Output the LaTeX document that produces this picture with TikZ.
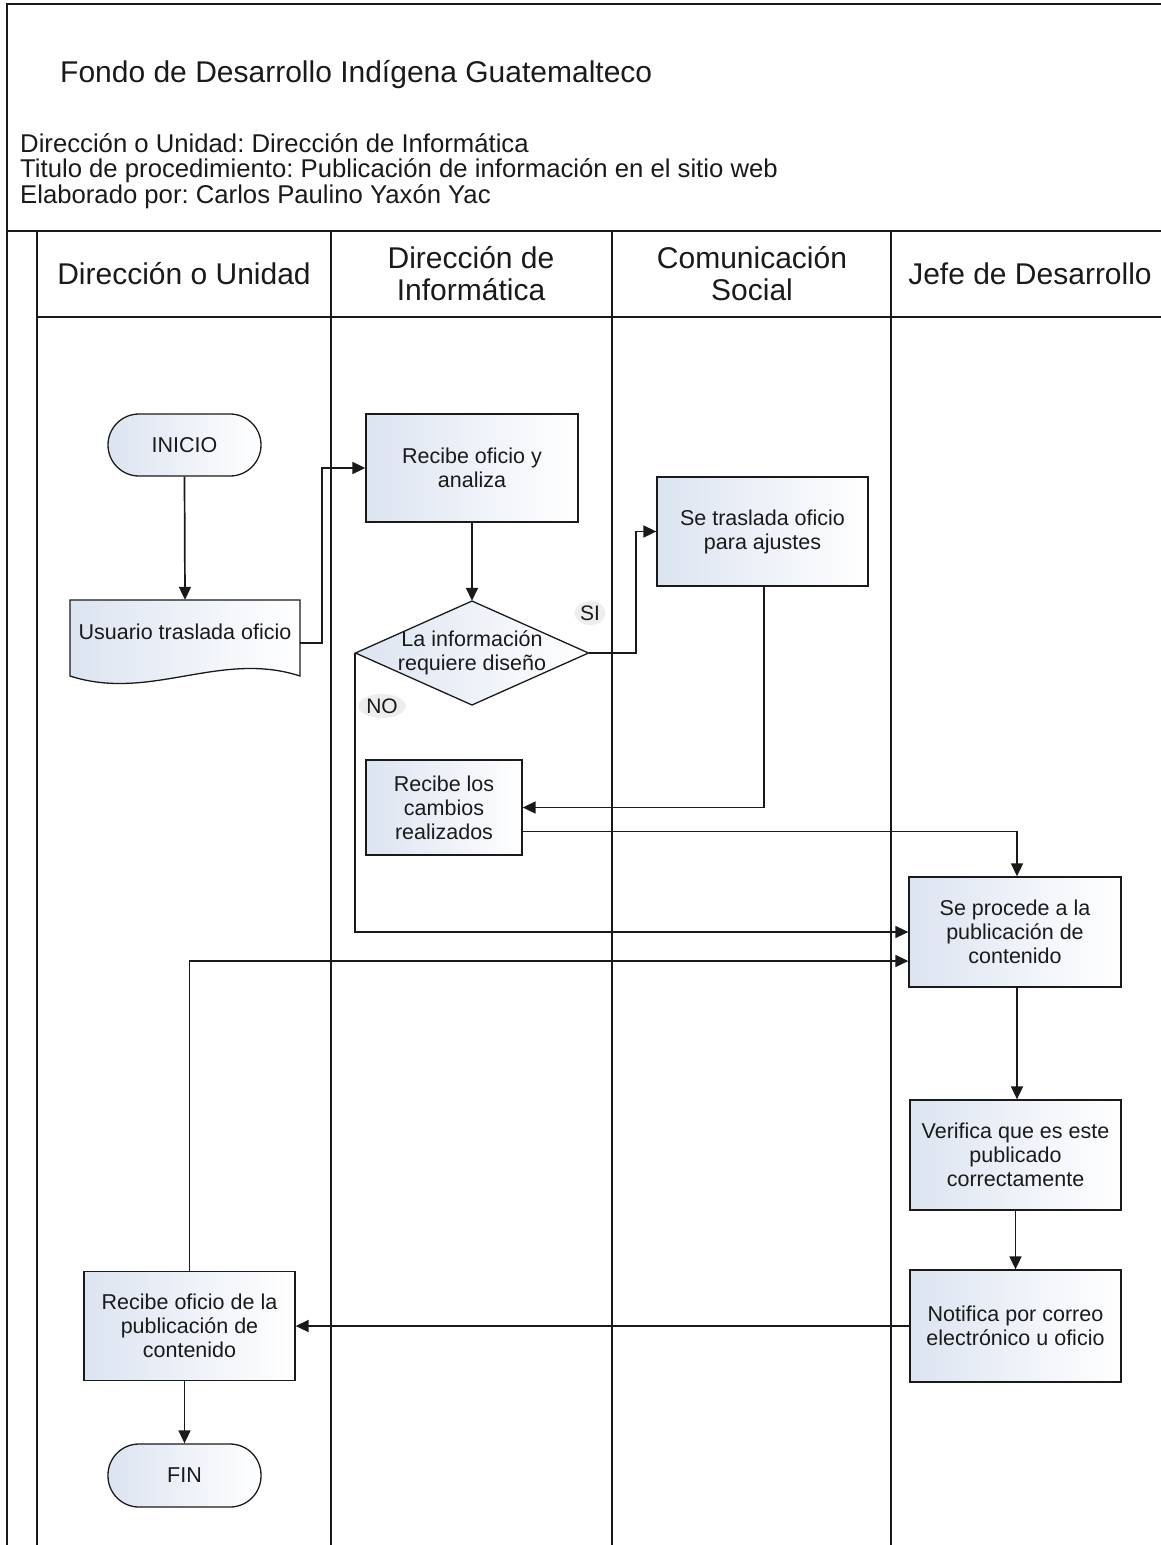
\documentclass[tikz,border=0pt]{standalone}
\usepackage{fontspec}
\setmainfont{Liberation Sans}
\usetikzlibrary{arrows.meta,shapes.geometric}
\definecolor{boxblue}{HTML}{DCE4F1}
\definecolor{inkc}{HTML}{1A1A1A}
\frenchspacing
\tikzset{
  gfill/.style={left color=boxblue, right color=white},
  proc/.style={draw=inkc, line width=1.3pt, gfill, align=center, text=inkc,
    font=\fontsize{21.5}{24}\selectfont, inner sep=0pt},
  term/.style={proc, rounded corners=31pt},
  conn/.style={draw=inkc, line width=1.7pt, -{Triangle[length=13pt,width=12pt]}},
  laneline/.style={draw=inkc, line width=1.7pt},
  lbl/.style={font=\fontsize{21}{24}\selectfont, fill=black!7, ellipse, inner sep=1pt, text=inkc},
  hdr/.style={font=\fontsize{30}{32}\selectfont, align=center, text=inkc, inner sep=0pt},
}
\begin{document}
\begin{tikzpicture}[x=1pt,y=-1pt]
\fill[white] (0,0) rectangle (1161,1545);
\useasboundingbox (0,0) rectangle (1161,1545);

% frame and lanes
\draw[laneline] (7,1545) -- (7,4) -- (1161,4);
\draw[laneline] (7,231) -- (1161,231);
\draw[laneline] (37,317) -- (1161,317);
\foreach \x in {37,331,612,891} \draw[laneline] (\x,231) -- (\x,1545);

% title block
\node[anchor=west, inner sep=0pt, text=inkc, font=\fontsize{30}{32}\selectfont] (title) at (60,75)
  {Fondo de Desarrollo Indígena Guatemalteco};
\node[anchor=west, inner sep=0pt, align=left, text=inkc, font=\fontsize{25.7}{25.5}\selectfont] (sub) at (20,171)
  {Dirección o Unidad: Dirección de Informática\\
   Titulo de procedimiento: Publicación de información en el sitio web\\
   Elaborado por: Carlos Paulino Yaxón Yac};

% lane headers
\node[hdr] (h1) at (184,274) {Dirección o Unidad};
\node[hdr] (h2) at (471,274) {Dirección de\\Informática};
\node[hdr] (h3) at (752,274) {Comunicación\\Social};
\node[hdr] (h4) at (1030,274) {Jefe de Desarrollo};

% shapes
\node[term, minimum width=153pt, minimum height=62pt] (ini) at (184.5,445) {INICIO};

\draw[line width=1.3pt, draw=inkc, gfill] (70,600) -- (300,600) -- (300,676)
  .. controls (220,650) and (150,702) .. (70,676) -- cycle;
\node[align=center, text=inkc, font=\fontsize{21.5}{24}\selectfont, inner sep=0pt,
  minimum width=230pt, minimum height=64pt] (doc) at (185,632) {Usuario traslada oficio};

\node[proc, minimum width=212pt, minimum height=108pt] (rec) at (472,468) {Recibe oficio y\\analiza};

\draw[line width=1.3pt, draw=inkc, gfill] (472,601) -- (588.5,653) -- (472,705) -- (355.5,653) -- cycle;
\node[align=center, text=inkc, font=\fontsize{21.5}{24}\selectfont, inner sep=0pt,
  minimum width=233pt, minimum height=104pt] (dec) at (472,653) {La información\\requiere diseño};

\node[proc, minimum width=211pt, minimum height=109pt] (tra) at (762.5,531.5) {Se traslada oficio\\para ajustes};
\node[proc, minimum width=156pt, minimum height=95pt] (cam) at (444,807.5) {Recibe los\\cambios\\realizados};
\node[proc, minimum width=212pt, minimum height=110pt] (pub) at (1015,932) {Se procede a la\\publicación de\\contenido};
\node[proc, minimum width=211pt, minimum height=110pt] (ver) at (1015.5,1155) {Verifica que es este\\publicado\\correctamente};
\node[proc, minimum width=211pt, minimum height=112pt] (not) at (1015.5,1326) {Notifica por correo\\electrónico u oficio};
\node[proc, minimum width=211pt, minimum height=109pt] (rof) at (189.5,1326) {Recibe oficio de la\\publicación de\\contenido};
\node[term, minimum width=153pt, minimum height=63pt] (fin) at (184.5,1475.5) {FIN};

% connectors
\draw[conn] (ini.south) -- (doc.north);
\draw[conn] ([yshift=-11pt]doc.east) -- ++(22,0) |- (rec.west);
\draw[conn] (rec.south) -- (dec.north);
\draw[conn] (dec.east) -- ++(47,0) |- (tra.west);
\draw[conn] ([xshift=1.5pt]tra.south) |- (cam.east);
\draw[conn] ([yshift=-24pt]cam.east) -| ([xshift=2pt]pub.north);
\draw[conn] (dec.west) |- (pub.west);
\draw[conn] (rof.north) |- ([yshift=-29pt]pub.west);
\draw[conn] ([xshift=2pt]pub.south) -- ([xshift=1.5pt]ver.north);
\draw[conn] (ver.south) -- (not.north);
\draw[conn] (not.west) -- (rof.east);
\draw[conn] (fin.north |- rof.south) -- (fin.north);

% labels
\node[lbl] (si) at (590,613) {SI};
\node[lbl] (no) at (382,706) {NO};
\end{tikzpicture}
\end{document}
